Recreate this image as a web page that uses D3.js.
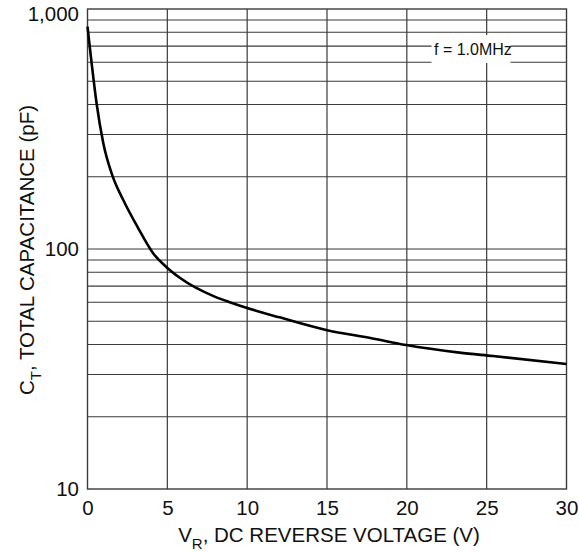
<!DOCTYPE html>
<html>
<head>
<meta charset="utf-8">
<script src="https://cdn.jsdelivr.net/npm/d3@7"></script>
<style>
  body { margin: 0; background: #fff; }
  text { font-family: "Liberation Sans", Arial, sans-serif; fill: #111; }
</style>
</head>
<body>
<script>
// data
var voltage = [0, 0.26, 0.57, 0.99, 1.55, 2.24, 3.18, 4.11, 4.95, 5.78, 8.0, 8.91, 9.95, 12.03, 14.95, 17.86, 19.95, 23.3, 25.4, 30]
var capacitance = [844, 594, 404, 276, 203, 160, 122, 96, 84, 75.9, 63.2, 60, 56.9, 51.9, 46, 42.4, 39.8, 37, 35.8, 33.2]
var xTicks = [0, 5, 10, 15, 20, 25, 30]
var yTicks = [10, 100, 1000]
var yGrid = [20, 30, 40, 50, 60, 70, 80, 90, 100, 200, 300, 400, 500, 600, 700, 800, 900]
var xGrid = [5, 10, 15, 20, 25]

var width = 579
var height = 552
var margin = { left: 87.5, top: 9, right: 12.5, bottom: 63 }
var innerWidth = width - margin.left - margin.right
var innerHeight = height - margin.top - margin.bottom

var svg = d3.select('body').append('svg').attr('width', width).attr('height', height)
var g = svg.append('g').attr('transform', `translate(${margin.left},${margin.top})`)

var x = d3.scaleLinear().domain([0, 30]).range([0, innerWidth])
var y = d3.scaleLog().domain([10, 1000]).range([innerHeight, 0])

var gridColor = '#3a3a3a'

// grid
g.append('g').selectAll('line').data(yGrid).enter().append('line')
    .attr('x1', 0).attr('x2', innerWidth)
    .attr('y1', d => y(d)).attr('y2', d => y(d))
    .attr('stroke', gridColor).attr('stroke-width', 1.2)
g.append('g').selectAll('line').data(xGrid).enter().append('line')
    .attr('y1', 0).attr('y2', innerHeight)
    .attr('x1', d => x(d)).attr('x2', d => x(d))
    .attr('stroke', gridColor).attr('stroke-width', 1.2)
g.append('rect').attr('width', innerWidth).attr('height', innerHeight)
    .attr('fill', 'none').attr('stroke', gridColor).attr('stroke-width', 1.4)

// frequency note with white box over grid
g.append('rect').attr('x', 344).attr('y', 26).attr('width', 79).attr('height', 28).attr('fill', '#fff')
g.append('text').attr('x', 346.5).attr('y', 46).attr('font-size', 16).text('f = 1.0MHz')

// curve
var line = d3.line().x(d => x(d[0])).y(d => y(d[1])).curve(d3.curveMonotoneX)
g.append('path').datum(voltage.map((v, i) => [v, capacitance[i]]))
    .attr('d', line).attr('fill', 'none').attr('stroke', '#000').attr('stroke-width', 2.6)

// axes
var xAxis = d3.axisBottom(x).tickValues(xTicks).tickSize(0).tickPadding(11)
var yAxis = d3.axisLeft(y).tickValues(yTicks).tickSize(0).tickPadding(8.5).tickFormat(d3.format(','))

var xa = g.append('g').attr('transform', `translate(0,${innerHeight})`).call(xAxis)
var ya = g.append('g').call(yAxis)
xa.select('.domain').remove()
ya.select('.domain').remove()
svg.selectAll('.tick text').attr('font-size', 20.5).attr('font-family', '"Liberation Sans", Arial, sans-serif').attr('fill', '#111')
ya.selectAll('.tick text').filter(d => d === 1000).attr('dy', '0.55em')

// axis titles
var xt = svg.append('text').attr('x', 329).attr('y', 542).attr('text-anchor', 'middle').attr('font-size', 20.5)
xt.append('tspan').text('V')
xt.append('tspan').attr('font-size', 15).attr('dy', 7).text('R')
xt.append('tspan').attr('dy', -7).text(', DC REVERSE VOLTAGE (V)')

var yt = svg.append('text').attr('transform', 'translate(34,250) rotate(-90)').attr('text-anchor', 'middle').attr('font-size', 20.5)
yt.append('tspan').text('C')
yt.append('tspan').attr('font-size', 15).attr('dy', 7).text('T')
yt.append('tspan').attr('dy', -7).text(', TOTAL CAPACITANCE (pF)')
</script>
</body>
</html>
